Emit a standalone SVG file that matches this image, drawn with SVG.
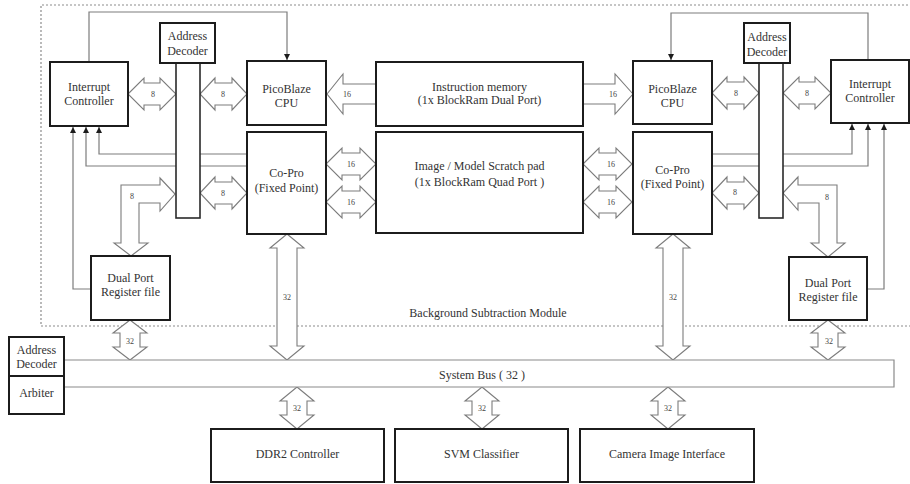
<svg xmlns="http://www.w3.org/2000/svg" width="910" height="484" viewBox="0 0 910 484">
  <defs>
    <style>
      .box { fill: #fff; stroke: #1c1c1c; stroke-width: 2; }
      .bar { fill: #fff; stroke: #2a2a2a; stroke-width: 1.6; }
      .wide { fill: #fff; stroke: #7c7c7c; stroke-width: 1.1; stroke-linejoin: miter; }
      .wire { fill: none; stroke: #7c7c7c; stroke-width: 1.2; }
      .bus { fill: #fff; stroke: #8a8a8a; stroke-width: 1.2; }
      .frame { fill: none; stroke: #8c8c8c; stroke-width: 1.2; stroke-dasharray: 2 2; }
      .t { font-family: "Liberation Serif", "Times New Roman", serif; font-size: 12px; fill: #333; text-anchor: middle; }
      .w { font-family: "Liberation Serif", "Times New Roman", serif; font-size: 8px; fill: #444; text-anchor: middle; }
    </style>
    <marker id="tip" viewBox="0 0 6 6" refX="6" refY="3" markerWidth="6" markerHeight="6" markerUnits="userSpaceOnUse" orient="auto">
      <path d="M0,0 L6,3 L0,6 Z" fill="#1c1c1c"/>
    </marker>
  </defs>

  <!-- module boundary -->
  <path class="frame" d="M912,5 H41 V326 H912"/>
  <text class="t" x="488" y="317">Background Subtraction Module</text>

  <!-- interrupt and control wires -->
  <g id="connectors">
    <path class="wire" d="M89,62 V12 H287 V60" marker-end="url(#tip)"/>
    <path class="wire" d="M868,60 V13 H671 V60" marker-end="url(#tip)"/>
    <path class="wire" d="M247,154 H99 V127" marker-end="url(#tip)"/>
    <path class="wire" d="M247,166 H86 V127" marker-end="url(#tip)"/>
    <path class="wire" d="M91,289 H73 V127" marker-end="url(#tip)"/>
    <path class="wire" d="M712,154 H852 V124" marker-end="url(#tip)"/>
    <path class="wire" d="M712,166 H868 V124" marker-end="url(#tip)"/>
    <path class="wire" d="M867,289 H884 V124" marker-end="url(#tip)"/>

    <!-- 8-bit buses, left core -->
    <path class="wide" d="M128,94 L144,78 L144,83 L160,83 L160,78 L176,94 L160,110 L160,105 L144,105 L144,110 Z"/>
    <path class="wide" d="M200,94 L215,78 L215,83 L232,83 L232,78 L247,94 L232,110 L232,105 L215,105 L215,110 Z"/>
    <path class="wide" d="M200,193 L215,177 L215,182 L232,182 L232,177 L247,193 L232,209 L232,204 L215,204 L215,209 Z"/>
    <path class="wide" d="M175,194 L160,178 L160,185 L121,185 L121,243 L114,243 L131,256 L148,243 L139,243 L139,203 L160,203 L160,211 Z"/>

    <!-- 8-bit buses, right core -->
    <path class="wide" d="M712,93 L727,77 L727,82 L744,82 L744,77 L759,93 L744,109 L744,104 L727,104 L727,109 Z"/>
    <path class="wide" d="M783,93 L799,77 L799,82 L815,82 L815,77 L831,93 L815,109 L815,104 L799,104 L799,109 Z"/>
    <path class="wide" d="M712,193 L727,177 L727,182 L744,182 L744,177 L759,193 L744,209 L744,204 L727,204 L727,209 Z"/>
    <path class="wide" d="M783,193 L798,177 L798,185 L837,185 L837,243 L845,243 L828,257 L811,243 L819,243 L819,203 L798,203 L798,210 Z"/>

    <!-- 16-bit instruction / scratch pad ports -->
    <path class="wide" d="M327,94 L343,74 L343,84 L376,84 L376,104 L343,104 L343,114 Z"/>
    <path class="wide" d="M633,94 L615,74 L615,84 L583,84 L583,104 L615,104 L615,114 Z"/>
    <path class="wide" d="M326,164 L342,148 L342,153 L360,153 L360,148 L376,164 L360,180 L360,175 L342,175 L342,180 Z"/>
    <path class="wide" d="M326,202 L342,186 L342,191 L360,191 L360,186 L376,202 L360,218 L360,213 L342,213 L342,218 Z"/>
    <path class="wide" d="M583,164 L599,148 L599,153 L616,153 L616,148 L632,164 L616,180 L616,175 L599,175 L599,180 Z"/>
    <path class="wide" d="M583,202 L599,186 L599,191 L616,191 L616,186 L632,202 L616,218 L616,213 L599,213 L599,218 Z"/>

    <!-- 32-bit system bus ports -->
    <path class="wide" d="M287,234 L304,248 L297,248 L297,346 L304,346 L287,360 L270,346 L277,346 L277,248 L270,248 Z"/>
    <path class="wide" d="M673,234 L690,248 L683,248 L683,346 L690,346 L673,360 L656,346 L663,346 L663,248 L656,248 Z"/>
    <path class="wide" d="M130,320 L147,333 L140,333 L140,347 L147,347 L130,360 L113,347 L120,347 L120,333 L113,333 Z"/>
    <path class="wide" d="M828,320 L845,333 L838,333 L838,347 L845,347 L828,360 L811,347 L818,347 L818,333 L811,333 Z"/>
    <path class="wide" d="M297,387 L314,401 L307,401 L307,415 L314,415 L297,429 L280,415 L287,415 L287,401 L280,401 Z"/>
    <path class="wide" d="M482,387 L499,401 L492,401 L492,415 L499,415 L482,429 L465,415 L472,415 L472,401 L465,401 L465,401 Z"/>
    <path class="wide" d="M668,387 L685,401 L678,401 L678,415 L685,415 L668,429 L651,415 L658,415 L658,401 L651,401 Z"/>

    <!-- bus widths -->
    <text class="w" x="153" y="97">8</text>
    <text class="w" x="223" y="97">8</text>
    <text class="w" x="223" y="196">8</text>
    <text class="w" x="132" y="199">8</text>
    <text class="w" x="736" y="96">8</text>
    <text class="w" x="807" y="96">8</text>
    <text class="w" x="735" y="195">8</text>
    <text class="w" x="827" y="200">8</text>
    <text class="w" x="347" y="97">16</text>
    <text class="w" x="613" y="97">16</text>
    <text class="w" x="351" y="167">16</text>
    <text class="w" x="351" y="205">16</text>
    <text class="w" x="611" y="167">16</text>
    <text class="w" x="611" y="205">16</text>
    <text class="w" x="287" y="300">32</text>
    <text class="w" x="673" y="300">32</text>
    <text class="w" x="130" y="344">32</text>
    <text class="w" x="829" y="344">32</text>
    <text class="w" x="297" y="411">32</text>
    <text class="w" x="482" y="411">32</text>
    <text class="w" x="668" y="411">32</text>
  </g>

  <!-- left core -->
  <g id="irq-left">
    <rect class="box" x="50" y="62" width="78" height="64"/>
    <text class="t" x="89" y="91">Interrupt</text>
    <text class="t" x="89" y="105">Controller</text>
  </g>
  <g id="addr-dec-left">
    <rect class="bar" x="176" y="63" width="24" height="155"/>
    <rect class="box" x="160" y="23" width="55" height="40"/>
    <text class="t" x="187.5" y="40">Address</text>
    <text class="t" x="187.5" y="55">Decoder</text>
  </g>
  <g id="cpu-left">
    <rect class="box" x="247" y="61" width="79" height="64"/>
    <text class="t" x="286.5" y="93">PicoBlaze</text>
    <text class="t" x="286.5" y="107">CPU</text>
  </g>
  <g id="copro-left">
    <rect class="box" x="247" y="132" width="79" height="102"/>
    <text class="t" x="286.5" y="177">Co-Pro</text>
    <text class="t" x="286.5" y="192">(Fixed Point)</text>
  </g>
  <g id="regfile-left">
    <rect class="box" x="91" y="256" width="79" height="64"/>
    <text class="t" x="130.5" y="282">Dual Port</text>
    <text class="t" x="130.5" y="296">Register file</text>
  </g>

  <!-- shared memories -->
  <g id="instr-mem">
    <rect class="box" x="376" y="62" width="207" height="64"/>
    <text class="t" x="479.5" y="91">Instruction memory</text>
    <text class="t" x="479.5" y="104">(1x BlockRam Dual Port)</text>
  </g>
  <g id="scratch-pad">
    <rect class="box" x="376" y="132" width="207" height="101"/>
    <text class="t" x="479.5" y="170">Image / Model Scratch pad</text>
    <text class="t" x="479.5" y="186">(1x BlockRam Quad Port )</text>
  </g>

  <!-- right core -->
  <g id="cpu-right">
    <rect class="box" x="633" y="61" width="79" height="63"/>
    <text class="t" x="672.5" y="93">PicoBlaze</text>
    <text class="t" x="672.5" y="107">CPU</text>
  </g>
  <g id="copro-right">
    <rect class="box" x="633" y="132" width="79" height="102"/>
    <text class="t" x="672.5" y="174">Co-Pro</text>
    <text class="t" x="672.5" y="188">(Fixed Point)</text>
  </g>
  <g id="addr-dec-right">
    <rect class="bar" x="759" y="63" width="24" height="155"/>
    <rect class="box" x="744" y="23" width="46" height="40"/>
    <text class="t" x="767" y="41">Address</text>
    <text class="t" x="767" y="56">Decoder</text>
  </g>
  <g id="irq-right">
    <rect class="box" x="831" y="60" width="78" height="63"/>
    <text class="t" x="870" y="88">Interrupt</text>
    <text class="t" x="870" y="102">Controller</text>
  </g>
  <g id="regfile-right">
    <rect class="box" x="789" y="257" width="78" height="63"/>
    <text class="t" x="828" y="287">Dual Port</text>
    <text class="t" x="828" y="301">Register file</text>
  </g>

  <!-- system bus -->
  <g id="system-bus">
    <path class="bus" d="M64,360 H894 V387 H64"/>
    <text class="t" x="482" y="379">System Bus ( 32 )</text>
  </g>
  <g id="bus-ctrl">
    <rect class="box" x="9" y="337" width="55" height="39"/>
    <rect class="box" x="9" y="376" width="55" height="38"/>
    <text class="t" x="36.5" y="354">Address</text>
    <text class="t" x="36.5" y="368">Decoder</text>
    <text class="t" x="36.5" y="397">Arbiter</text>
  </g>

  <!-- peripherals -->
  <g id="ddr2">
    <rect class="box" x="211" y="429" width="173" height="53"/>
    <text class="t" x="297.5" y="458">DDR2 Controller</text>
  </g>
  <g id="svm">
    <rect class="box" x="395" y="429" width="173" height="53"/>
    <text class="t" x="481.5" y="458">SVM Classifier</text>
  </g>
  <g id="camera">
    <rect class="box" x="580" y="429" width="174" height="53"/>
    <text class="t" x="667" y="458">Camera Image Interface</text>
  </g>
</svg>
